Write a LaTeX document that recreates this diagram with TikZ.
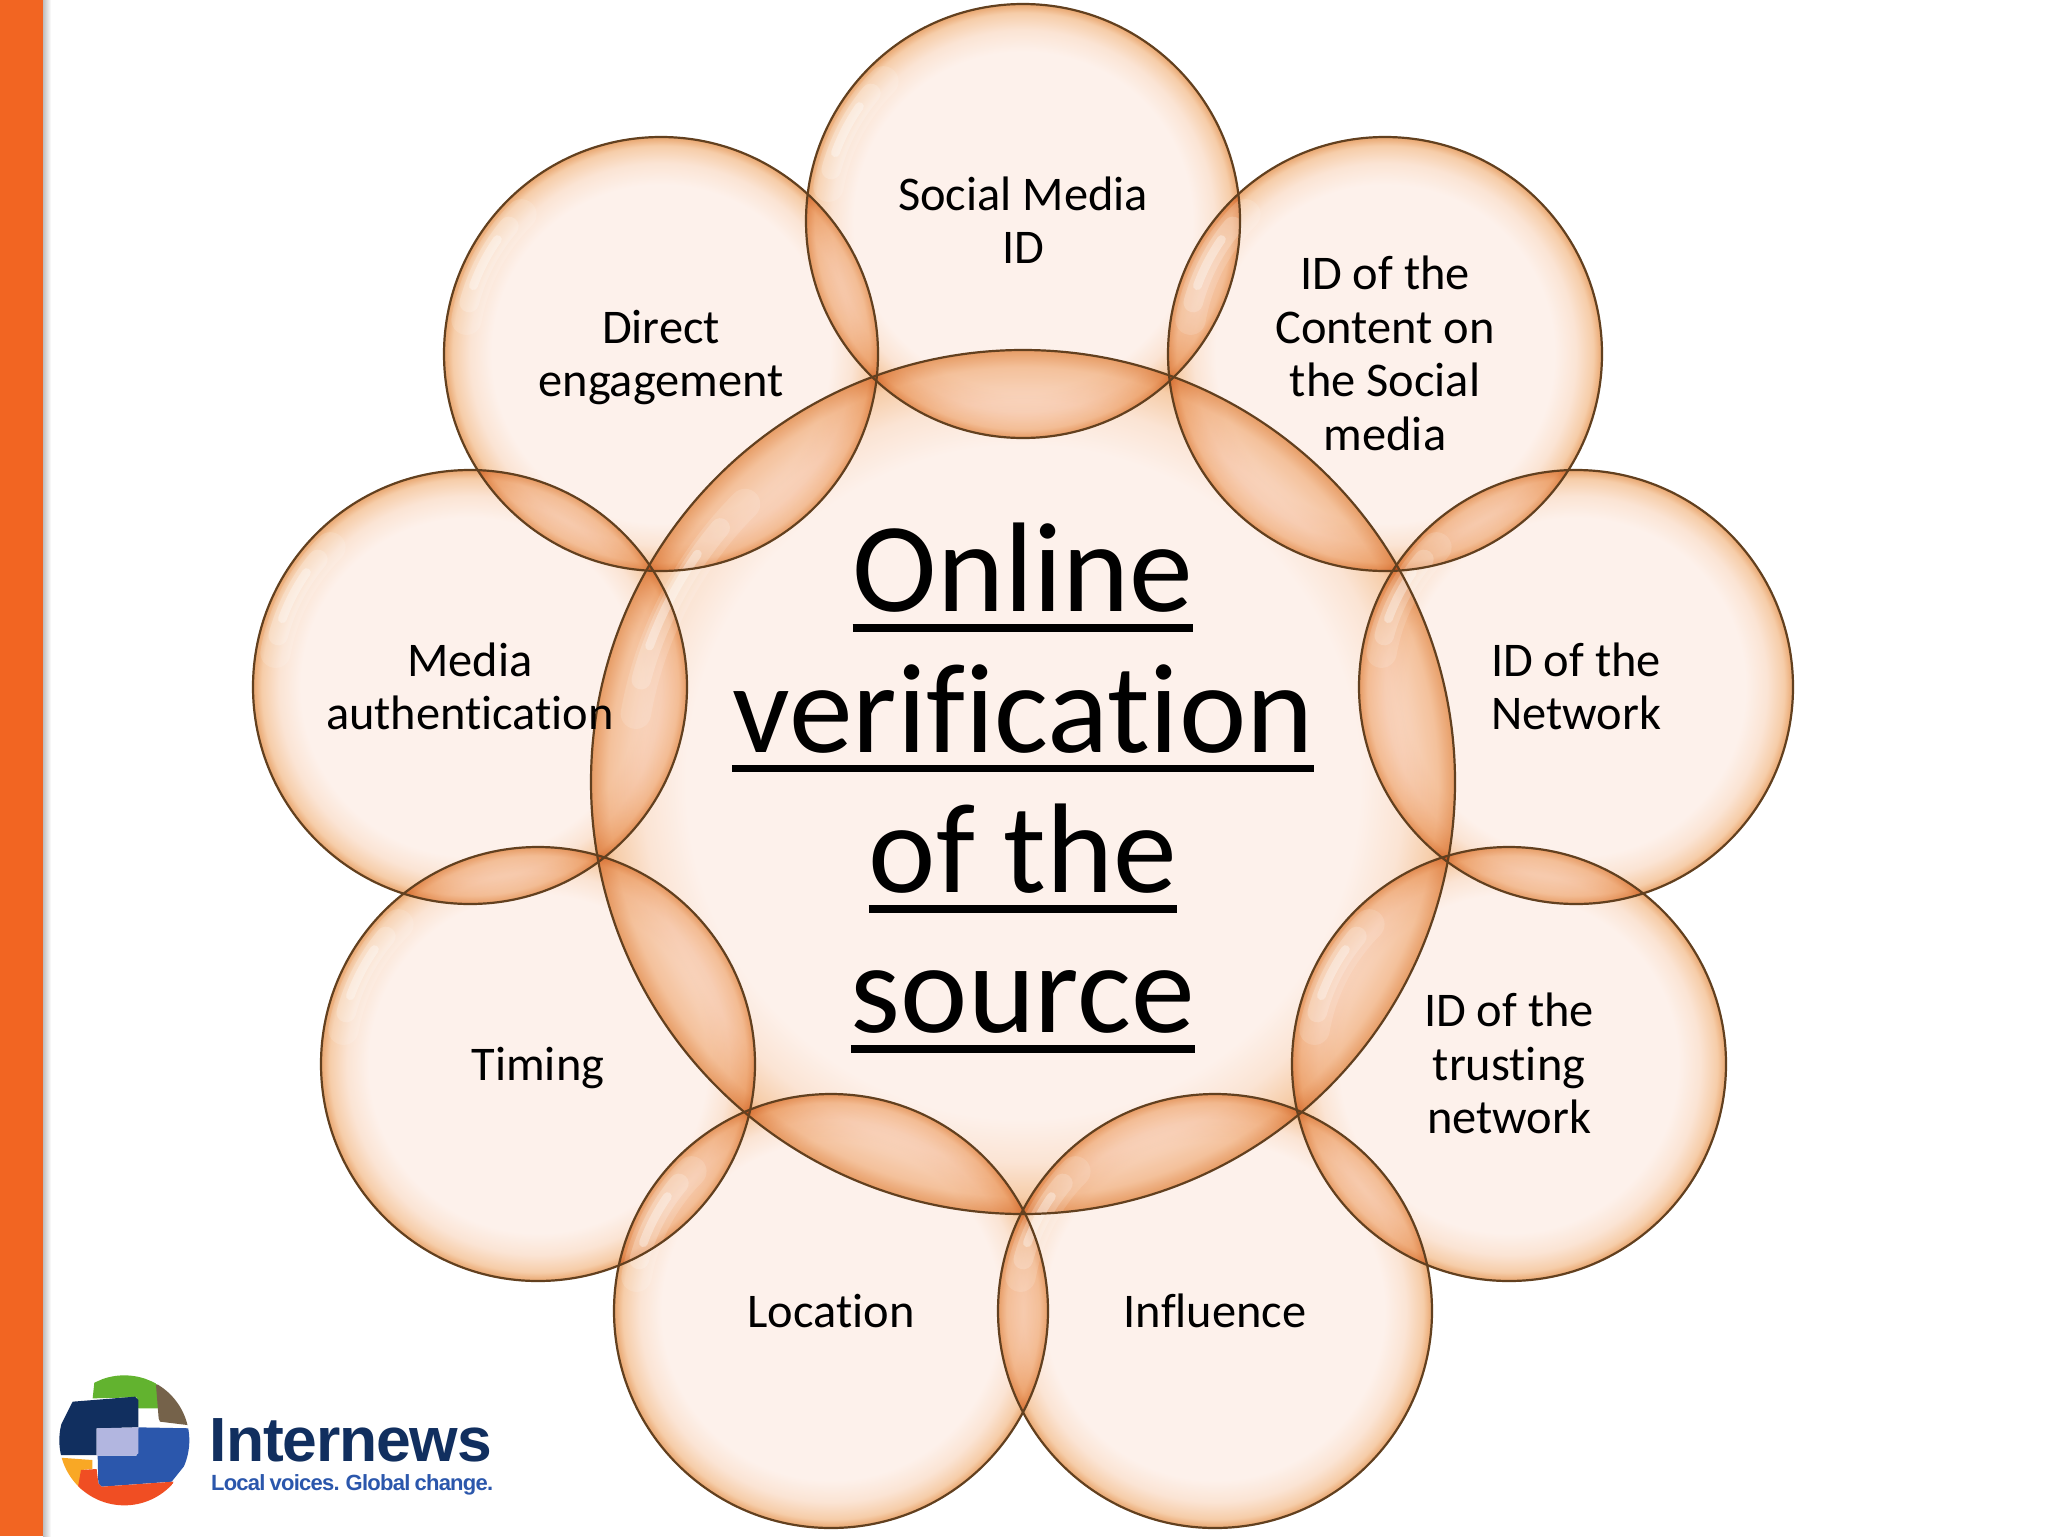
\documentclass[tikz,border=0pt]{standalone}
\usepackage{fontspec}
\setmainfont[Ligatures={NoRequired,NoCommon,NoContextual}]{Carlito}
\newfontfamily\logofont[LetterSpace=-1.8]{Liberation Sans}
\newfontfamily\tagfont[LetterSpace=-3.5,WordSpace=0.8]{Liberation Sans}
\lineskiplimit=-50pt
\definecolor{glassA}{HTML}{FDF1EB}
\definecolor{glassB}{HTML}{FBE4D4}
\definecolor{glassC}{HTML}{F6CDA9}
\definecolor{glassD}{HTML}{E9A66F}
\definecolor{rimline}{HTML}{62401F}
\definecolor{barorange}{HTML}{F26522}
\definecolor{lognavy}{HTML}{112F5F}
\definecolor{logblue}{HTML}{2B57AC}
\definecolor{loglav}{HTML}{B2B6E0}
\definecolor{loggreen}{HTML}{62B32F}
\definecolor{logbrown}{HTML}{75624A}
\definecolor{logyellow}{HTML}{F9A825}
\definecolor{logred}{HTML}{F04E23}
\pgfdeclareradialshading{glass}{\pgfpoint{0bp}{0bp}}{%
 color(0bp)=(glassA); color(19.5bp)=(glassA); color(22bp)=(glassB);
 color(24bp)=(glassC); color(25bp)=(glassD); color(50bp)=(glassD)}
\newcommand\myul[1]{\setbox0\hbox{#1}\rlap{\rule[-10pt]{\wd0}{3.8pt}}\box0}
\newcommand\lst{\rule[-5pt]{0pt}{26pt}}
\newcommand\hilite[3]{%
 \draw[white,opacity=.14,line width=#3*.07pt,line cap=round] ([shift={(190:#2*.91)}]#1.center) arc[start angle=190,end angle=225,radius=#2*.91];
 \draw[white,opacity=.2,line width=#3*.045pt,line cap=round] ([shift={(195:#2*.915)}]#1.center) arc[start angle=195,end angle=220,radius=#2*.915];
 \draw[white,opacity=.35,line width=#3*.02pt,line cap=round] ([shift={(200:#2*.92)}]#1.center) arc[start angle=200,end angle=215,radius=#2*.92];
}
\tikzset{
 x=.5pt,y=-.5pt,
 bub/.style={circle,inner sep=0pt,outer sep=0pt,minimum size=217pt,shade,shading=glass,blend mode=multiply},
 bigbub/.style={bub,minimum size=432pt},
 rim/.style={circle,inner sep=0pt,outer sep=0pt,minimum size=217pt,draw=rimline,line width=1.1pt},
 bigrim/.style={rim,minimum size=432pt},
 lab/.style={align=center,font=\fontsize{24.2}{26.8}\selectfont,text=black,inner sep=0pt},
}
\begin{document}
\begin{tikzpicture}
\useasboundingbox (0,0) rectangle (2048,1536);
\fill[white] (0,0) rectangle (2048,1536);
\node[bigbub] (cc) at (1023,782) {};
\node[bub] (c1) at (1023,221) {};
\node[bub] (c2) at (1385,354) {};
\node[bub] (c3) at (1576,687) {};
\node[bub] (c4) at (1509,1064) {};
\node[bub] (c5) at (1215,1311) {};
\node[bub] (c6) at (831,1311) {};
\node[bub] (c7) at (538,1064) {};
\node[bub] (c8) at (470,687) {};
\node[bub] (c9) at (661,354) {};
\hilite{cc}{432}{217}
\foreach \n in {c1,c2,c3,c4,c5,c6,c7,c8,c9} {\hilite{\n}{217}{217}}
\node[bigrim] (rc) at (cc) {};
\foreach \n in {1,...,9} {\node[rim] (r\n) at (c\n) {};}
\node[lab] (t1) at (c1) {\lst Social Media\\\lst ID};
\node[lab] (t2) at (c2) {\lst ID of the\\Content on\\the Social\\\lst media};
\node[lab] (t3) at (c3) {\lst ID of the\\\lst Network};
\node[lab] (t4) at (c4) {\lst ID of the\\trusting\\\lst network};
\node[lab] (t5) at (c5) {\lst Influence};
\node[lab] (t6) at (c6) {\lst Location};
\node[lab] (t7) at (c7) {\lst Timing};
\node[lab] (t8) at (c8) {\lst Media\\\lst authentication};
\node[lab] (t9) at (c9) {\lst Direct\\\lst engagement};
\node[align=center,inner sep=0pt,font=\fontsize{63.8}{70.2}\selectfont] (title) at (1023,788)
 {\myul{Online}\\\myul{verification}\\\myul{of the}\\\myul{source}};
% side bar
\fill[barorange] (0,0) rectangle (43,1536);
\shade[left color=black!25!white,right color=white] (43,0) rectangle (51,1536);
% logo
\begin{scope}[shift={(0,1340)},x=.5pt/3,y=-.5pt/3]
\begin{scope}
\clip (373,301) circle[radius=195];
\fill[loggreen] (278,175) -- (283,128) -- (370,90) -- (470,130) -- (475,205) -- (415,205) -- (410,172) -- cycle;
\fill[logbrown] (468,135) -- (476,235) -- (480,245) -- (570,256) -- (570,100) -- cycle;
\fill[lognavy] (218,185) -- (405,170) -- (415,180) -- (415,262) -- (290,265) -- (290,345) -- (170,345) -- (170,280) -- cycle;
\fill[logblue] (415,262) -- (575,265) -- (575,350) -- (515,425) -- (305,440) -- (295,430) -- (293,347) -- (410,347) -- cycle;
\fill[loglav] (290,265) -- (415,262) -- (415,340) -- (405,347) -- (290,347) -- cycle;
\fill[logyellow] (180,353) -- (277,360) -- (277,387) -- (243,390) -- (248,455) -- (170,455) -- cycle;
\fill[logred] (243,390) -- (290,387) -- (295,430) -- (305,440) -- (520,425) -- (500,520) -- (220,520) -- cycle;
\end{scope}
\node[anchor=base west,inner sep=0pt,text=lognavy,font=\logofont\bfseries\fontsize{31.2}{36}\selectfont] (brand) at (628,365) {Internews};
\node[anchor=base west,inner sep=0pt,text=logblue,font=\tagfont\bfseries\fontsize{11}{12}\selectfont] (tagline) at (632,452) {Local voices. Global change.};
\end{scope}
\end{tikzpicture}
\end{document}
